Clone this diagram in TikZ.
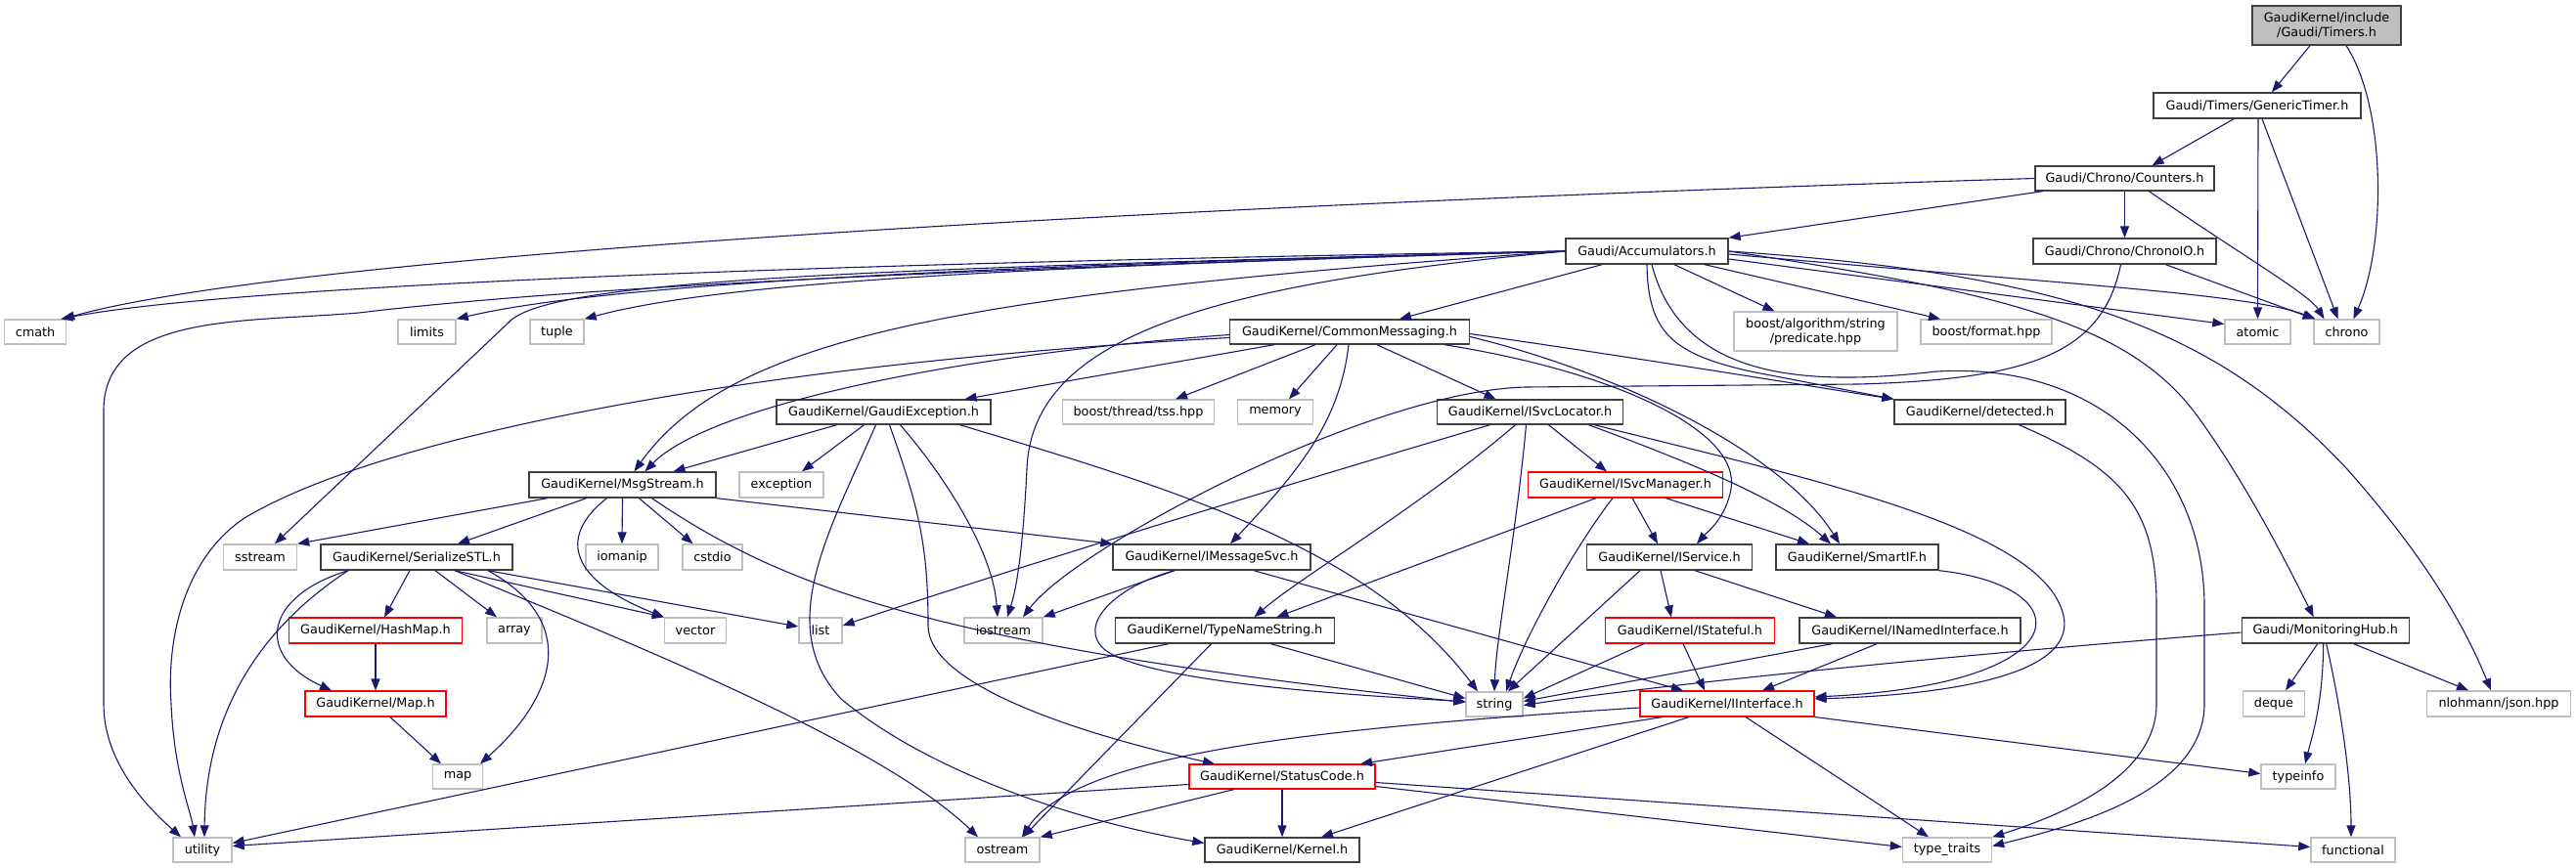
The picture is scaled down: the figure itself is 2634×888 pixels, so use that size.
\documentclass[tikz,border=0pt]{standalone}
\usepackage{fontspec}
\setmainfont{DejaVu Sans}
\usetikzlibrary{arrows.meta}
\definecolor{edgecol}{HTML}{191970}
\definecolor{graybd}{HTML}{BFBFBF}
\definecolor{darkbd}{HTML}{404040}
\definecolor{rootfill}{HTML}{BFBFBF}
\begin{document}
\begin{tikzpicture}[x=1pt,y=-1pt,
  nd/.style={draw=darkbd, line width=1.4pt, fill=white, inner sep=0pt, text=black, align=center, font=\fontsize{12.8}{15}\selectfont},
  ext/.style={nd, draw=graybd},
  trunc/.style={nd, draw=red, line width=1.1pt},
  rootnd/.style={nd, fill=rootfill},
  e/.style={draw=edgecol, line width=1.1pt, -{Triangle[length=12pt,width=9pt]}}]
\fill[white] (0,0) rectangle (2634,888);
\useasboundingbox (0,0) rectangle (2634,888);
% nodes
\node[rootnd, minimum width=152pt, minimum height=40pt] (timers) at (2379,26) {GaudiKernel/include\\/Gaudi/Timers.h};
\node[nd, minimum width=212pt, minimum height=26pt] (gtimer) at (2308,108) {Gaudi/Timers/GenericTimer.h};
\node[nd, minimum width=183pt, minimum height=25pt] (counters) at (2172.5,182.5) {Gaudi/Chrono/Counters.h};
\node[nd, minimum width=187pt, minimum height=26pt] (chronoio) at (2172.5,257) {Gaudi/Chrono/ChronoIO.h};
\node[nd, minimum width=166pt, minimum height=26pt] (accum) at (1684,257) {Gaudi/Accumulators.h};
\node[ext, minimum width=63pt, minimum height=25pt] (cmath) at (36,339.5) {cmath};
\node[ext, minimum width=59pt, minimum height=25pt] (limits) at (436.5,339.5) {limits};
\node[ext, minimum width=55pt, minimum height=25pt] (tuple) at (569.5,339.5) {tuple};
\node[nd, minimum width=245pt, minimum height=25pt] (cm) at (1380,339.5) {GaudiKernel/CommonMessaging.h};
\node[ext, minimum width=167pt, minimum height=40pt] (pred) at (1856.5,339) {boost/algorithm/string\\/predicate.hpp};
\node[ext, minimum width=134pt, minimum height=25pt] (fmt) at (2031,339.5) {boost/format.hpp};
\node[ext, minimum width=67pt, minimum height=25pt] (atomic) at (2308.5,339.5) {atomic};
\node[ext, minimum width=67pt, minimum height=25pt] (chrono) at (2399.5,339.5) {chrono};
\node[nd, minimum width=219pt, minimum height=25pt] (gexc) at (903.5,421.5) {GaudiKernel/GaudiException.h};
\node[ext, minimum width=155pt, minimum height=25pt] (tss) at (1164,421.5) {boost/thread/tss.hpp};
\node[ext, minimum width=77pt, minimum height=25pt] (memory) at (1304,421.5) {memory};
\node[nd, minimum width=190pt, minimum height=25pt] (svcloc) at (1564.5,421.5) {GaudiKernel/ISvcLocator.h};
\node[nd, minimum width=175pt, minimum height=25pt] (detected) at (2024.5,421.5) {GaudiKernel/detected.h};
\node[nd, minimum width=191pt, minimum height=26pt] (msg) at (636.5,496) {GaudiKernel/MsgStream.h};
\node[ext, minimum width=86pt, minimum height=26pt] (exception) at (799,496) {exception};
\node[trunc, minimum width=199pt, minimum height=26pt] (svcmgr) at (1662,496) {GaudiKernel/ISvcManager.h};
\node[ext, minimum width=75pt, minimum height=26pt] (sstream) at (266,570) {sstream};
\node[nd, minimum width=196pt, minimum height=26pt] (sstl) at (426,570) {GaudiKernel/SerializeSTL.h};
\node[ext, minimum width=74pt, minimum height=26pt] (iomanip) at (636,570) {iomanip};
\node[ext, minimum width=61pt, minimum height=26pt] (cstdio) at (728.5,570) {cstdio};
\node[nd, minimum width=202pt, minimum height=26pt] (imsg) at (1239,570) {GaudiKernel/IMessageSvc.h};
\node[nd, minimum width=169pt, minimum height=26pt] (iservice) at (1707,570) {GaudiKernel/IService.h};
\node[nd, minimum width=166pt, minimum height=26pt] (smartif) at (1899,570) {GaudiKernel/SmartIF.h};
\node[trunc, minimum width=177pt, minimum height=26pt] (hashmap) at (384,645) {GaudiKernel/HashMap.h};
\node[ext, minimum width=56pt, minimum height=26pt] (array) at (526,645) {array};
\node[ext, minimum width=63pt, minimum height=26pt] (vector) at (711,645) {vector};
\node[ext, minimum width=44pt, minimum height=26pt] (list) at (839,645) {list};
\node[ext, minimum width=80pt, minimum height=26pt] (iostream) at (1026,645) {iostream};
\node[nd, minimum width=224pt, minimum height=26pt] (tns) at (1252.5,645) {GaudiKernel/TypeNameString.h};
\node[trunc, minimum width=173pt, minimum height=26pt] (istateful) at (1728,645) {GaudiKernel/IStateful.h};
\node[nd, minimum width=226pt, minimum height=26pt] (inamed) at (1953,645) {GaudiKernel/INamedInterface.h};
\node[nd, minimum width=171pt, minimum height=26pt] (monhub) at (2377.7,645) {Gaudi/MonitoringHub.h};
\node[trunc, minimum width=144pt, minimum height=26pt] (mapH) at (384,720) {GaudiKernel/Map.h};
\node[ext, minimum width=58pt, minimum height=25pt] (string) at (1528,720.5) {string};
\node[trunc, minimum width=178pt, minimum height=26pt] (iinterface) at (1766,720) {GaudiKernel/IInterface.h};
\node[ext, minimum width=63pt, minimum height=26pt] (deque) at (2325,720) {deque};
\node[ext, minimum width=147pt, minimum height=26pt] (json) at (2555,720) {nlohmann/json.hpp};
\node[ext, minimum width=51pt, minimum height=25pt] (mapstd) at (468,794.5) {map};
\node[trunc, minimum width=190pt, minimum height=25pt] (statuscode) at (1311,794.5) {GaudiKernel/StatusCode.h};
\node[ext, minimum width=76pt, minimum height=25pt] (typeinfo) at (2350,794.5) {typeinfo};
\node[ext, minimum width=60pt, minimum height=25pt] (utility) at (207,869.5) {utility};
\node[ext, minimum width=76pt, minimum height=25pt] (ostream) at (1025,869.5) {ostream};
\node[nd, minimum width=158pt, minimum height=25pt] (kernel) at (1311,869.5) {GaudiKernel/Kernel.h};
\node[ext, minimum width=91pt, minimum height=25pt] (typetraits) at (1991,869.5) {type\_traits};
\node[ext, minimum width=86pt, minimum height=25pt] (functional) at (2406,869.5) {functional};
% edges: Timers, GenericTimer, Counters, ChronoIO
\draw[e] ([xshift=-17pt]timers.south) -- ([xshift=15pt]gtimer.north);
\draw[e] ([xshift=20pt]timers.south) .. controls (2440,110) and (2440,250) .. ([xshift=7pt]chrono.north);
\draw[e] ([xshift=-24pt]gtimer.south) -- ([xshift=28pt]counters.north);
\draw[e] ([xshift=1pt]gtimer.south) -- (atomic.north);
\draw[e] ([xshift=5pt]gtimer.south) -- ([xshift=-9pt]chrono.north);
\draw[e] ([xshift=-84pt]counters.south) -- (accum.north east);
\draw[e] (counters) -- (chronoio);
\draw[e] ([xshift=25pt]counters.south) .. controls (2290,260) and (2360,300) .. ([xshift=-23pt]chrono.north);
\draw[e] (counters.west) .. controls (1200,210) and (300,260) .. ([xshift=-4pt]cmath.north east);
\draw[e] ([xshift=42pt]chronoio.south) -- ([xshift=-33pt]chrono.north);
\draw[e] ([xshift=-4pt]chronoio.south) .. controls (2150,360) and (2080,388) .. (1900,393) -- (1560,396) .. controls (1400,400) and (1100,560) .. ([xshift=20pt]iostream.north);
% Accumulators
\draw[e] (accum.west) .. controls (900,268) and (250,290) .. ([xshift=-6pt]cmath.north east);
\draw[e] (accum.west) .. controls (1000,275) and (600,292) .. (367,320) .. controls (250,330) and (106,320) .. (106,420) -- (106,720) .. controls (106,780) and (150,825) .. ([xshift=-22pt]utility.north);
\draw[e] (accum.west) .. controls (1000,272) and (620,290) .. (limits.north east);
\draw[e] (accum.west) .. controls (1100,272) and (750,285) .. (tuple.north east);
\draw[e] (accum.west) .. controls (900,275) and (560,285) .. (520,330) -- ([xshift=15pt]sstream.north);
\draw[e] (accum.west) .. controls (1000,300) and (750,340) .. ([xshift=12pt]msg.north);
\draw[e] (accum.west) .. controls (1250,290) and (1055,340) .. (1050,480) .. controls (1046,560) and (1040,600) .. ([xshift=4pt]iostream.north);
\draw[e] ([xshift=-46pt]accum.south) -- ([xshift=51pt]cm.north);
\draw[e] ([xshift=28pt]accum.south) -- ([xshift=-42pt]pred.north);
\draw[e] ([xshift=59pt]accum.south) -- ([xshift=-47pt]fmt.north);
\draw[e] ([yshift=-8pt]accum.east) -- ([yshift=8pt]atomic.west);
\draw[e] ([yshift=-3pt]accum.east) .. controls (2100,290) and (2300,300) .. ([xshift=-32pt]chrono.north);
\draw[e] (accum.south) .. controls (1685,340) and (1710,362) .. (1790,380) -- (detected.north west);
\draw[e] ([xshift=5pt]accum.south) .. controls (1720,390) and (1850,395) .. (1980,380) .. controls (2150,370) and (2254,480) .. (2254,620) -- (2254,720) .. controls (2254,810) and (2120,845) .. ([yshift=4pt]typetraits.east);
\draw[e] (accum.east) .. controls (2050,300) and (2180,330) .. (2250,430) .. controls (2300,500) and (2340,580) .. ([xshift=-12pt]monhub.north);
\draw[e] (accum.east) .. controls (2100,280) and (2260,330) .. (2400,480) .. controls (2480,570) and (2520,640) .. ([xshift=-8pt]json.north);
% CommonMessaging
\draw[e] ([xshift=-77pt]cm.south) -- ([xshift=83pt]gexc.north);
\draw[e] ([xshift=-35pt]cm.south) -- ([xshift=38pt]tss.north);
\draw[e] ([xshift=-13pt]cm.south) -- ([xshift=14pt]memory.north);
\draw[e] ([xshift=-1pt]cm.south) .. controls (1370,430) and (1330,480) .. ([xshift=19pt]imsg.north);
\draw[e] ([xshift=28pt]cm.south) -- ([xshift=-35pt]svcloc.north);
\draw[e] ([xshift=97pt]cm.south) .. controls (1650,380) and (1780,440) .. (1770,500) .. controls (1765,530) and (1745,545) .. ([xshift=28pt]iservice.north);
\draw[e] ([yshift=-5pt]cm.east) .. controls (1650,380) and (1820,460) .. ([xshift=-18pt]smartif.north);
\draw[e] ([yshift=-2pt]cm.east) .. controls (1700,370) and (1850,395) .. (detected.north west);
\draw[e] ([yshift=-3pt]cm.west) .. controls (950,365) and (720,420) .. ([xshift=23pt]msg.north);
\draw[e] ([yshift=-6pt]cm.west) .. controls (800,370) and (400,440) .. (250,530) .. controls (190,570) and (170,650) .. (175,720) .. controls (178,790) and (195,830) .. ([xshift=-8pt]utility.north);
% GaudiException
\draw[e] ([xshift=-48pt]gexc.south) -- ([xshift=52pt]msg.north);
\draw[e] ([xshift=-20pt]gexc.south) -- ([xshift=21pt]exception.north);
\draw[e] ([xshift=17pt]gexc.south) .. controls (960,480) and (1015,560) .. ([xshift=-6pt]iostream.north);
\draw[e] ([xshift=78pt]gexc.south) .. controls (1200,500) and (1400,560) .. ([xshift=-17pt]string.north);
\draw[e] ([xshift=-8pt]gexc.south) .. controls (850,540) and (790,640) .. (860,715) .. controls (950,790) and (1100,840) .. ([yshift=7pt]kernel.west);
\draw[e] ([xshift=6pt]gexc.south) .. controls (940,520) and (949,560) .. (949,640) .. controls (949,700) and (1100,750) .. ([xshift=-69pt]statuscode.north);
% ISvcLocator
\draw[e] ([xshift=-41pt]svcloc.south) .. controls (1200,530) and (950,610) .. ([yshift=5pt]list.east);
\draw[e] ([xshift=-15pt]svcloc.south) .. controls (1450,520) and (1330,590) .. ([xshift=30pt]tns.north);
\draw[e] ([xshift=-4pt]svcloc.south) .. controls (1550,550) and (1530,650) .. (string.north);
\draw[e] ([xshift=19pt]svcloc.south) -- ([xshift=-19pt]svcmgr.north);
\draw[e] ([xshift=60pt]svcloc.south) .. controls (1720,470) and (1820,510) .. ([xshift=-27pt]smartif.north);
\draw[e] ([xshift=66pt]svcloc.south) .. controls (1850,490) and (2090,540) .. (2110,630) .. controls (2125,700) and (1950,712) .. ([yshift=5pt]iinterface.east);
% ISvcManager
\draw[e] ([xshift=-30pt]svcmgr.south) -- ([xshift=53pt]tns.north);
\draw[e] ([xshift=-13pt]svcmgr.south) .. controls (1610,560) and (1560,650) .. ([xshift=12pt]string.north);
\draw[e] ([xshift=7pt]svcmgr.south) -- ([xshift=-12pt]iservice.north);
\draw[e] ([xshift=41pt]svcmgr.south) -- ([xshift=-49pt]smartif.north);
% MsgStream
\draw[e] ([xshift=-77pt]msg.south) -- (sstream.north east);
\draw[e] ([xshift=-37pt]msg.south) -- ([xshift=42pt]sstl.north);
\draw[e] ([xshift=-16pt]msg.south) .. controls (575,545) and (575,590) .. (vector.north west);
\draw[e] (msg.south) -- (iomanip.north);
\draw[e] ([xshift=17pt]msg.south) -- ([xshift=-20pt]cstdio.north);
\draw[e] ([xshift=30pt]msg.south) .. controls (800,600) and (950,660) .. ([yshift=2pt]string.west);
\draw[e] (msg.south east) -- (imsg.north west);
% SerializeSTL
\draw[e] ([xshift=-70pt]sstl.south) .. controls (270,610) and (260,670) .. ([xshift=-45pt]mapH.north);
\draw[e] ([xshift=-70pt]sstl.south) .. controls (240,660) and (210,760) .. ([xshift=2pt]utility.north);
\draw[e] ([xshift=-7pt]sstl.south) -- ([xshift=9pt]hashmap.north);
\draw[e] ([xshift=19pt]sstl.south) -- ([xshift=-18pt]array.north);
\draw[e] ([xshift=73pt]sstl.south) .. controls (600,640) and (560,720) .. ([xshift=23pt]mapstd.north);
\draw[e] ([xshift=39pt]sstl.south) -- (vector.north west);
\draw[e] ([xshift=73pt]sstl.south) -- ([yshift=4pt]list.west);
\draw[e] ([xshift=39pt]sstl.south) .. controls (650,660) and (900,760) .. ([xshift=-25pt]ostream.north);
\draw[e] (hashmap) -- (mapH);
\draw[e] ([xshift=15pt]mapH.south) -- ([xshift=-17pt]mapstd.north);
% IMessageSvc
\draw[e] ([xshift=-38pt]imsg.south) -- (iostream.north east);
\draw[e] ([xshift=-38pt]imsg.south) .. controls (1140,600) and (1100,640) .. (1130,665) .. controls (1170,695) and (1350,710) .. ([yshift=3pt]string.west);
\draw[e] ([xshift=43pt]imsg.south) -- ([xshift=-45pt]iinterface.north);
% IService, IStateful, INamedInterface, SmartIF
\draw[e] ([xshift=-30pt]iservice.south) -- ([xshift=14pt]string.north);
\draw[e] ([xshift=-9pt]iservice.south) -- ([xshift=-19pt]istateful.north);
\draw[e] ([xshift=26pt]iservice.south) -- ([xshift=-75pt]inamed.north);
\draw[e] ([xshift=-47pt]istateful.south) -- ([yshift=6pt]string.east);
\draw[e] ([xshift=-7pt]istateful.south) -- ([xshift=-23pt]iinterface.north);
\draw[e] ([xshift=-80pt]inamed.south) -- ([yshift=3pt]string.east);
\draw[e] ([xshift=-34pt]inamed.south) -- ([xshift=36pt]iinterface.north);
\draw[e] (smartif.south east) .. controls (2130,600) and (2130,700) .. ([yshift=7pt]iinterface.east);
% MonitoringHub
\draw[e] ([yshift=-2pt]monhub.west) .. controls (2000,670) and (1700,700) .. ([yshift=-1pt]string.east);
\draw[e] ([xshift=-8pt]monhub.south) -- ([xshift=12pt]deque.north);
\draw[e] ([xshift=-2pt]monhub.south) .. controls (2375,720) and (2365,750) .. ([xshift=7pt]typeinfo.north);
\draw[e] ([xshift=1pt]monhub.south) .. controls (2395,730) and (2404,800) .. ([xshift=-2pt]functional.north);
\draw[e] ([xshift=29pt]monhub.south) -- ([xshift=-31pt]json.north);
% IInterface
\draw[e] ([yshift=-4pt]iinterface.west) .. controls (1350,745) and (1100,770) .. ([xshift=20pt]ostream.north);
\draw[e] ([xshift=-66pt]iinterface.south) -- ([xshift=80pt]statuscode.north);
\draw[e] ([xshift=-39pt]iinterface.south) -- ([xshift=40pt]kernel.north);
\draw[e] ([xshift=19pt]iinterface.south) -- ([xshift=-19pt]typetraits.north);
\draw[e] (iinterface.south east) -- ([yshift=3pt]typeinfo.west);
% StatusCode
\draw[e] ([yshift=-8pt]statuscode.west) -- ([yshift=4pt]utility.east);
\draw[e] ([xshift=-49pt]statuscode.south) -- (ostream.north east);
\draw[e] (statuscode) -- (kernel);
\draw[e] ([yshift=-10pt]statuscode.east) -- ([yshift=3pt]typetraits.west);
\draw[e] ([yshift=-6pt]statuscode.east) -- ([yshift=3pt]functional.west);
% TypeNameString
\draw[e] ([xshift=47pt]tns.south) -- ([yshift=6pt]string.west);
\draw[e] ([xshift=-14pt]tns.south) -- ([xshift=21pt]ostream.north);
\draw[e] ([xshift=-58pt]tns.south) -- ([yshift=7pt]utility.east);
% detected
\draw[e] ([xshift=40pt]detected.south) .. controls (2170,480) and (2205,520) .. (2205,620) -- (2205,720) .. controls (2205,790) and (2120,830) .. (typetraits.north east);
\end{tikzpicture}
\end{document}
